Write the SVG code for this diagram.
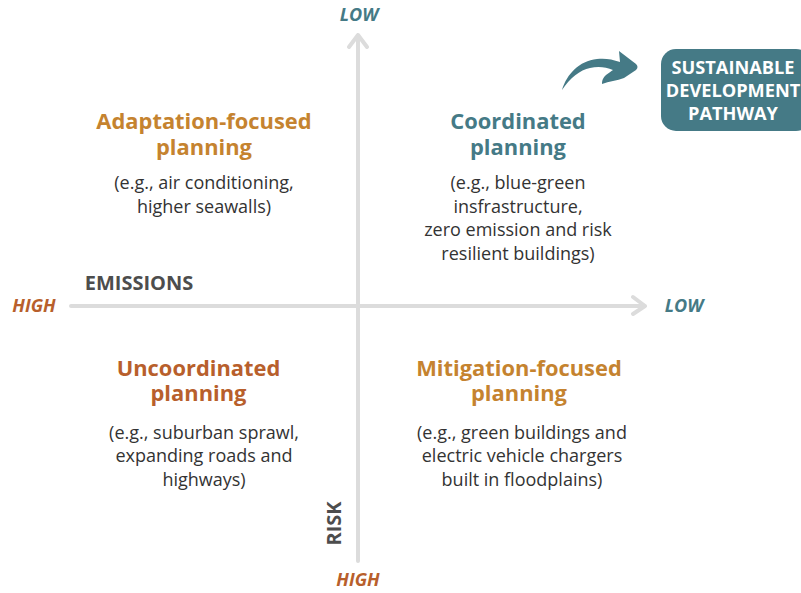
<svg xmlns="http://www.w3.org/2000/svg" width="801" height="593" viewBox="0 0 801 593">
<style>
text{font-family:"Open Sans","Noto Sans",sans-serif;text-anchor:middle}
.h{font-size:21.9px;font-weight:700}
.b{font-size:18px;fill:#333}
.ax{font-size:20px;font-weight:700;fill:#4d4d4d}
.end{font-size:18px;font-weight:700;font-style:italic}
.box{font-size:18.2px;font-weight:700;fill:#fff}
.axis{fill:none;stroke:#dcdcdc;stroke-width:4;stroke-linecap:round;stroke-linejoin:round}
.ora{fill:#c5832f}.teal{fill:#457a86}.rust{fill:#b85f2c}
</style>
<g id="connectors">
<path class="axis" d="M358 561V35M349 47L358 35L367 47"/>
<path class="axis" d="M71 306H645M633 297L645 306L633 314"/>
<path d="M562 90C567 74 579 61 597 59C604 58 612 59 620 62L619 51L636 64Q639 67 636 70L624 78C617 81 609 81 602 84C602 79 604 77 606 75C609 73 611 71 613 70C606 67 598 66 590 68C580 70 570 78 562 90Z" fill="#457a86"/>
</g>
<g id="axis-labels">
<text class="end teal" x="359" y="21">LOW</text>
<text class="end teal" x="684" y="312">LOW</text>
<text class="end rust" x="34" y="312">HIGH</text>
<text class="end rust" x="358" y="586">HIGH</text>
<text class="ax" x="139" y="290">EMISSIONS</text>
<text class="ax" transform="translate(341 523.500) rotate(-90)">RISK</text>
</g>
<g id="sustainable-pathway">
<rect x="661" y="49" width="150" height="82" rx="15" fill="#457a86"/>
<text class="box" x="733" y="73.500">SUSTAINABLE</text>
<text class="box" x="733" y="96.500">DEVELOPMENT</text>
<text class="box" x="733" y="119.500">PATHWAY</text>
</g>
<g id="adaptation">
<text class="h ora" x="204" y="129">Adaptation-focused</text>
<text class="h ora" x="204" y="155">planning</text>
<text class="b" x="204" y="189">(e.g., air conditioning,</text>
<text class="b" x="204" y="213">higher seawalls)</text>
</g>
<g id="coordinated">
<text class="h teal" x="518" y="129">Coordinated</text>
<text class="h teal" x="518" y="155">planning</text>
<text class="b" x="518" y="189">(e.g., blue-green</text>
<text class="b" x="518" y="213">insfrastructure,</text>
<text class="b" x="518" y="236">zero emission and risk</text>
<text class="b" x="518" y="260">resilient buildings)</text>
</g>
<g id="uncoordinated">
<text class="h rust" x="198.500" y="375.500">Uncoordinated</text>
<text class="h rust" x="198.500" y="401">planning</text>
<text class="b" x="204" y="439">(e.g., suburban sprawl,</text>
<text class="b" x="204" y="462">expanding roads and</text>
<text class="b" x="204" y="486">highways)</text>
</g>
<g id="mitigation">
<text class="h ora" x="519" y="375.500">Mitigation-focused</text>
<text class="h ora" x="519" y="401">planning</text>
<text class="b" x="522" y="439">(e.g., green buildings and</text>
<text class="b" x="522" y="462">electric vehicle chargers</text>
<text class="b" x="522" y="486">built in floodplains)</text>
</g>
</svg>
